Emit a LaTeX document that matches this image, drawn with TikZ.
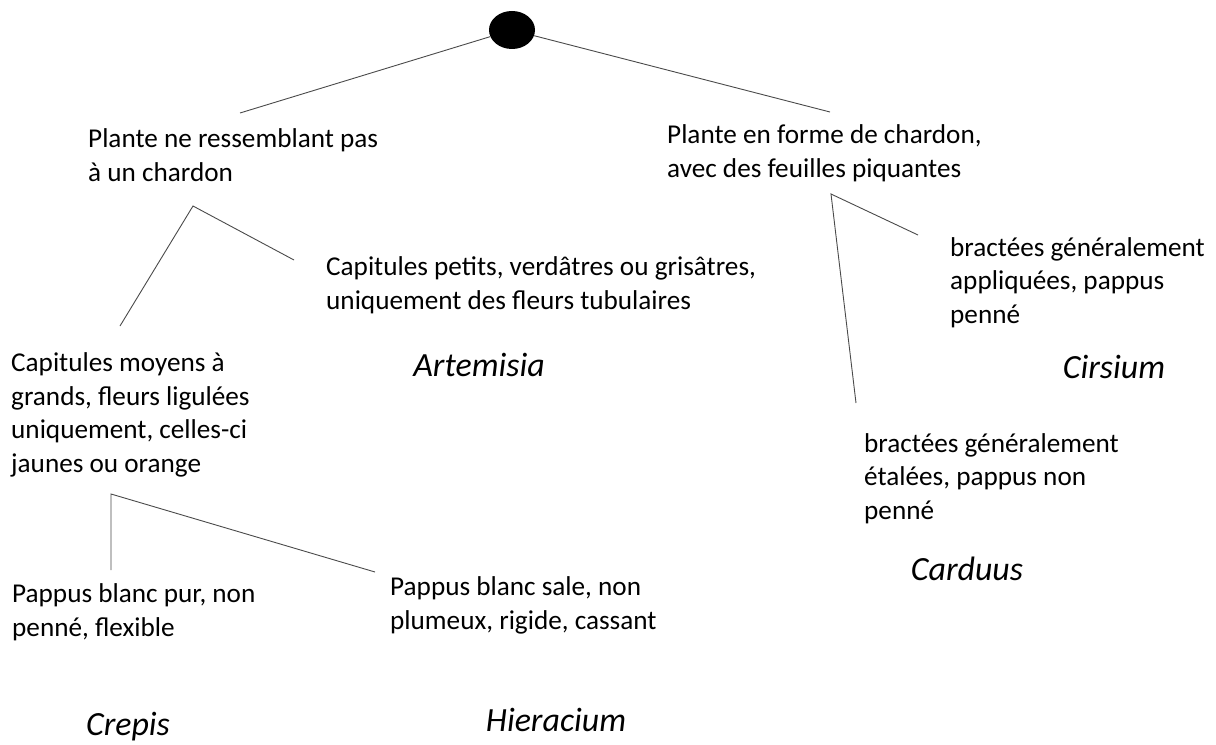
\documentclass[tikz,border=0pt]{standalone}
\usepackage{fontspec}
\setmainfont{Carlito}
\usetikzlibrary{positioning, shapes.geometric}
\definecolor{branchline}{HTML}{4A4A4A}

\begin{document}
\begin{tikzpicture}[
    x=1bp, y=-1bp,
    every node/.style={inner sep=0pt},
    keytext/.style={font=\fontsize{27.3}{33.5}\selectfont, align=left, anchor=base west},
    genus/.style={font=\fontsize{34}{40}\selectfont\itshape, anchor=base},
    branch/.style={draw=branchline, line width=0.9bp},
]
\useasboundingbox (0,0) rectangle (1216,745);

% Root
\node[ellipse, fill=black, minimum width=46bp, minimum height=38bp] (root) at (512,30) {};

% First split (placed at the baseline of the last line)
\node[keytext] (notthistle) at (88,181)
    {Plante ne ressemblant pas\\à un chardon};
\node[keytext] (thistle) at (667,177)
    {Plante en forme de chardon,\\avec des feuilles piquantes};

% Left part of the key
\node[keytext] (small) at (326,309)
    {Capitules petits, verdâtres ou grisâtres,\\uniquement des fleurs tubulaires};
\node[genus] (artemisia) at (479,376) {Artemisia};

\node[keytext] (ligulate) at (11,472)
    {Capitules moyens à\\grands, fleurs ligulées\\uniquement, celles-ci\\jaunes ou orange};

\node[keytext] (purewhite) at (12,636)
    {Pappus blanc pur, non\\penné, flexible};
\node[keytext] (dirtywhite) at (390,629)
    {Pappus blanc sale, non\\plumeux, rigide, cassant};
\node[genus] (crepis) at (128,735) {Crepis};
\node[genus] (hieracium) at (556,731) {Hieracium};

% Right part of the key
\node[keytext] (appressed) at (950,323)
    {bractées généralement\\appliquées, pappus\\penné};
\node[genus] (cirsium) at (1114,378) {Cirsium};

\node[keytext] (spreading) at (864,519)
    {bractées généralement\\étalées, pappus non\\penné};
\node[genus] (carduus) at (967,580) {Carduus};

% Branch points
\coordinate (notthistleIn) at (240,113);
\coordinate (thistleIn) at (830,112);
\coordinate (leftFork) at (193,206);
\coordinate (ligulateIn) at (120,326);
\coordinate (smallIn) at (294,260);
\coordinate (lowFork) at (111,494);
\coordinate (pureIn) at (111,570);
\coordinate (dirtyIn) at (375,572);
\coordinate (rightFork) at (831,194);
\coordinate (spreadIn) at (856,403);
\coordinate (appressIn) at (918,235);

% Connectors
\draw[branch] (root) -- (notthistleIn);
\draw[branch] (root) -- (thistleIn);
\draw[branch] (ligulateIn) -- (leftFork) -- (smallIn);
\draw[branch] (pureIn) -- (lowFork) -- (dirtyIn);
\draw[branch] (spreadIn) -- (rightFork) -- (appressIn);

\end{tikzpicture}
\end{document}
